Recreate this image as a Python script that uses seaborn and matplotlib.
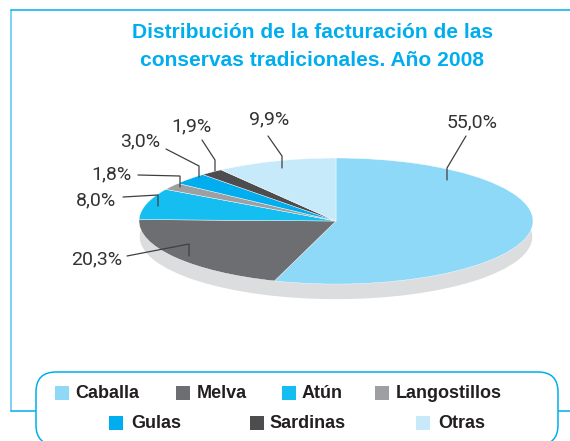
"""Pie chart of traditional canned fish turnover, 2008."""
import matplotlib.pyplot as plt
from matplotlib.patches import FancyBboxPatch, Rectangle
import seaborn as sns

categories = ["Caballa", "Melva", "Atún", "Langostillos", "Gulas", "Sardinas", "Otras"]
shares = [55.0, 20.3, 8.0, 1.8, 3.0, 1.9, 9.9]
share_labels = ["55,0%", "20,3%", "8,0%", "1,8%", "3,0%", "1,9%", "9,9%"]
slice_colors = ["#8ed8f8", "#6d6e71", "#15bef0", "#9d9fa2", "#00aeef", "#4d4d4f", "#c7eafb"]
title_lines = ["Distribución de la facturación de las", "conservas tradicionales. Año 2008"]

sns.set_theme(style="white")
plt.rcParams["font.family"] = ["Liberation Sans", "DejaVu Sans"]
palette = sns.color_palette(slice_colors)

W, H = 570, 441
fig = plt.figure(figsize=(W / 100, H / 100), dpi=100, facecolor="white")

# Overlay axes in pixel coordinates for frame, labels and legend.
bg = fig.add_axes([0, 0, 1, 1])
bg.set_xlim(0, W)
bg.set_ylim(H, 0)
bg.set_axis_off()

# Outer frame.
bg.plot([11, 11], [10, 411], color="#6fcff6", lw=1.3, zorder=1)
bg.plot([11, 570], [10, 10], color="#00aeef", lw=1.1, zorder=1)
bg.plot([11, 36], [411, 411], color="#00aeef", lw=1.1, zorder=1)
bg.plot([558, 570], [411, 411], color="#00aeef", lw=1.1, zorder=1)

# Pie axes, squashed into an ellipse.
pie_ax = fig.add_axes([139 / W, 1 - (158 + 145) / H, 394 / W, 145 / H])
pie_ax.pie([1], colors=["#dcddde"], center=(0, -0.25), radius=1)
pie_ax.pie(
    shares,
    colors=palette,
    startangle=90,
    counterclock=False,
    radius=1,
    wedgeprops={"edgecolor": "white", "linewidth": 0.3},
)
pie_ax.set_aspect("auto")
pie_ax.set_xlim(-1, 1)
pie_ax.set_ylim(-1.3, 1)
pie_ax.set_axis_off()
pie_ax.patch.set_alpha(0)

# Leader lines on top of the pie.
top = fig.add_axes([0, 0, 1, 1])
top.set_xlim(0, W)
top.set_ylim(H, 0)
top.set_axis_off()
top.patch.set_alpha(0)

label_pos = [(472, 122), (97, 259), (96, 200), (111, 174), (140, 141), (191, 126), (269, 119)]
leaders = [
    [(466, 136), (447, 168), (447, 180)],
    [(127, 256), (189, 244), (189, 256)],
    [(123, 197), (158, 195), (158, 206)],
    [(138, 175), (180, 176), (180, 187)],
    [(166, 149), (199, 166), (199, 177)],
    [(202, 140), (215, 160), (215, 171)],
    [(268, 136), (282, 156), (282, 168)],
]
for text, pos, path in zip(share_labels, label_pos, leaders):
    top.text(*pos, text, fontsize=14, family=["Roboto", "DejaVu Sans"],
             color="#333333", ha="center", va="center")
    top.plot(*zip(*path), color="#404040", lw=0.9, solid_joinstyle="miter")

# Title.
for line, y in zip(title_lines, [32, 60]):
    top.text(312.5, y, line, fontsize=15.1, fontweight="bold", color="#00aeef", ha="center", va="center")

# Legend box runs off the bottom edge.
top.add_patch(
    FancyBboxPatch(
        (56, 392), 482, 33,
        boxstyle="round,pad=20,rounding_size=20",
        facecolor="white", edgecolor="#00aeef", lw=1.1, clip_on=True,
    )
)

swatch_pos = [(55, 393), (176, 393), (282, 393), (375, 393), (109, 423), (250, 423), (416, 423)]
text_x = [75, 197, 302, 396, 131, 269, 438]
for name, color, (sx, sy), tx in zip(categories, palette, swatch_pos, text_x):
    top.add_patch(Rectangle((sx, sy - 7), 14, 14, facecolor=color, edgecolor="none", zorder=3))
    top.text(tx, sy, name, fontsize=13, fontweight="bold", color="#231f20", ha="left", va="center", zorder=3)

fig.savefig("out.png", dpi=100)
